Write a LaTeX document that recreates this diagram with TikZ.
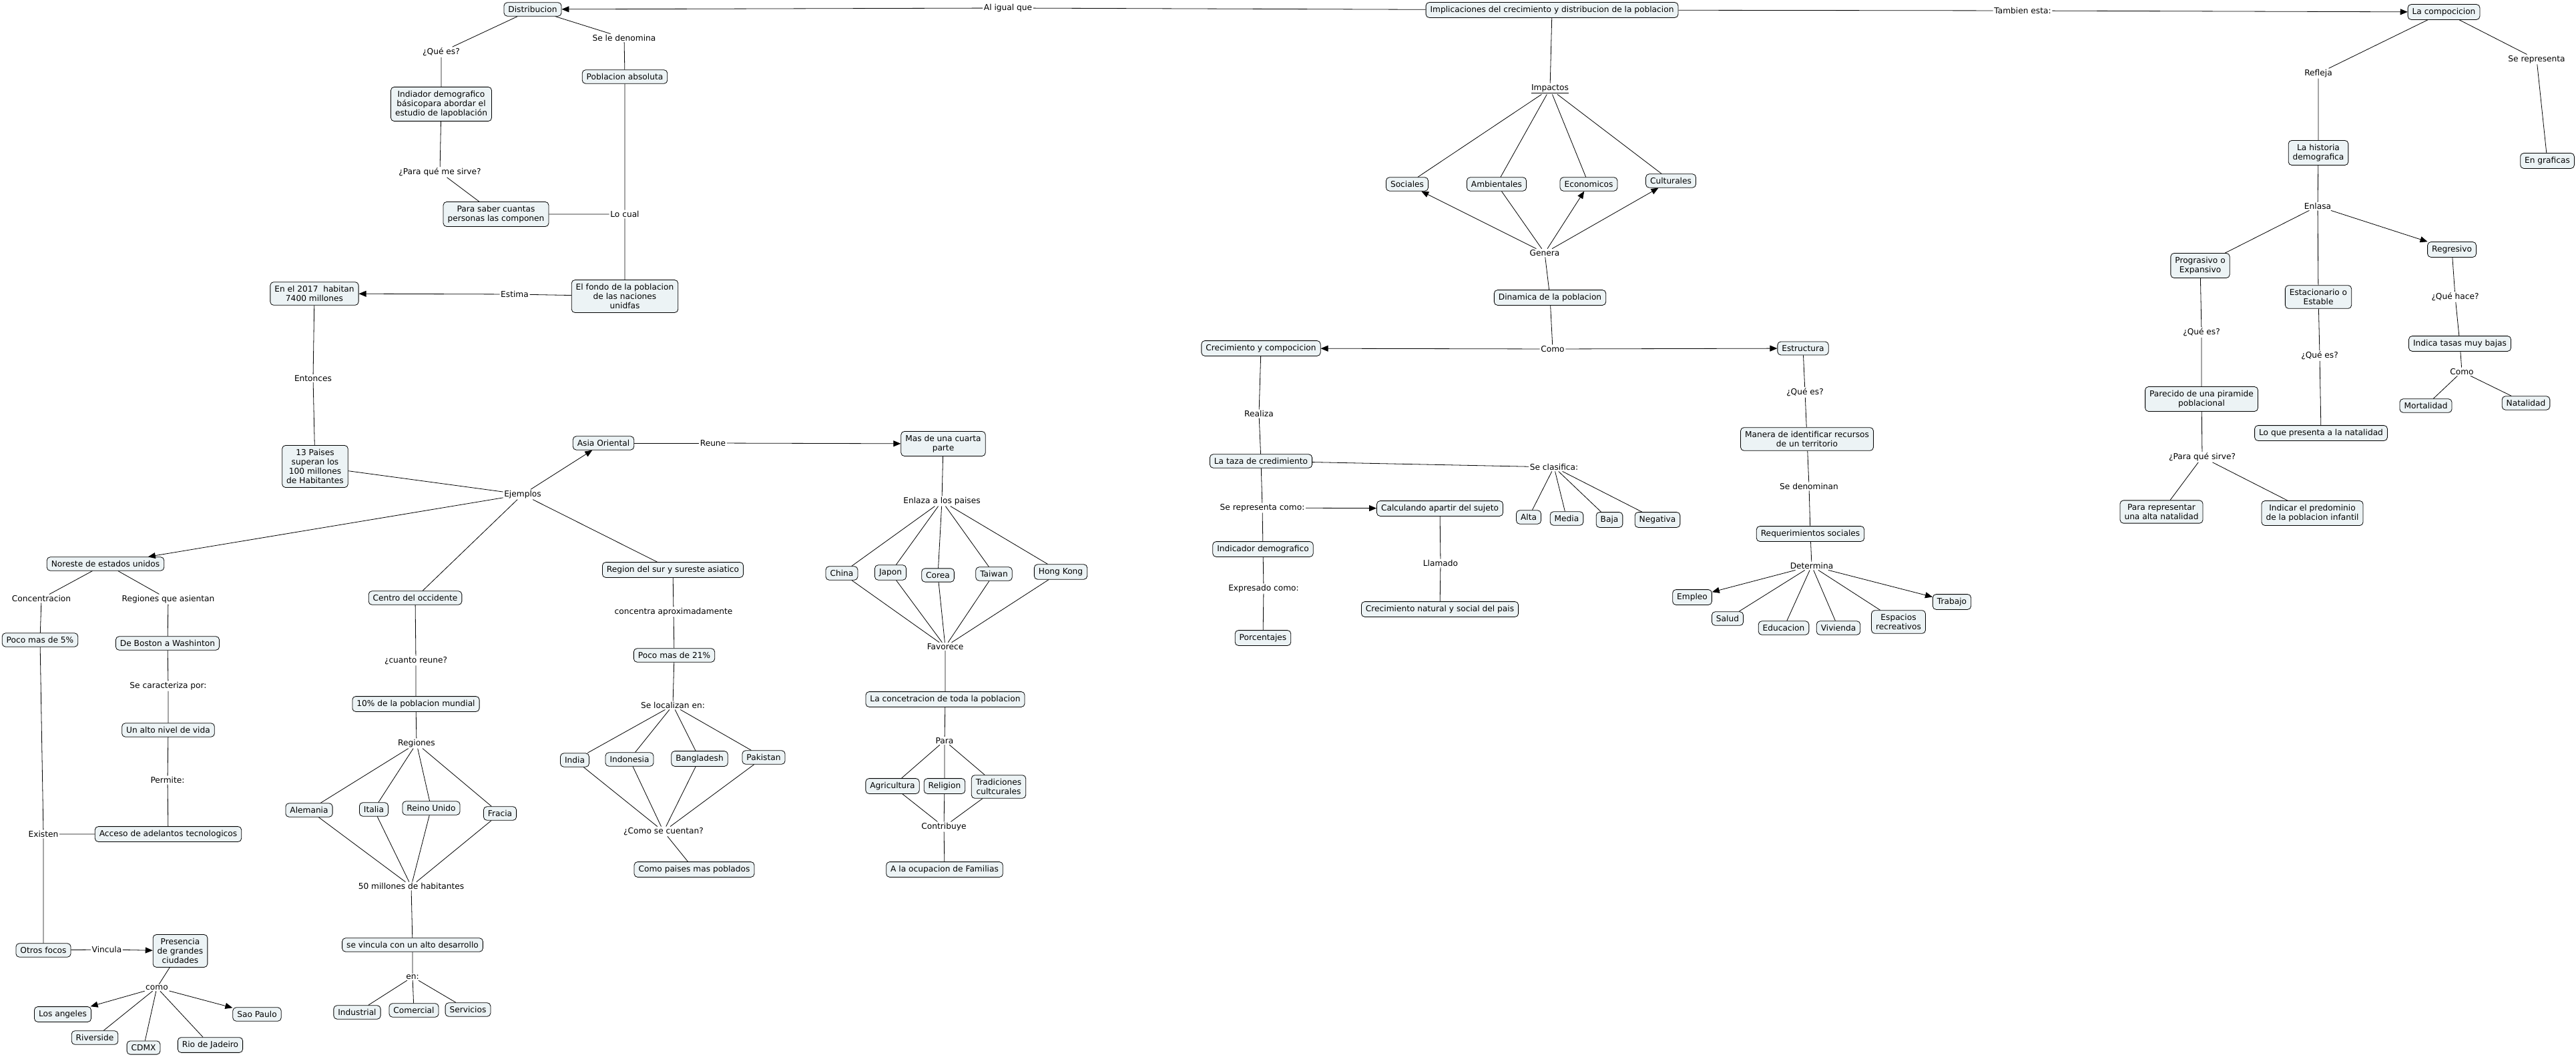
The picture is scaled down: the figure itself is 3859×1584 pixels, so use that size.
\documentclass[tikz,border=0pt]{standalone}
\usepackage{fontspec}
\setmainfont{DejaVu Sans}
\usetikzlibrary{arrows.meta}
\definecolor{cfill}{RGB}{236,243,245}

\begin{document}
\begin{tikzpicture}[
  x=1pt, y=-1pt,
  font=\fontsize{12.2}{14.2}\selectfont,
  concept/.style={draw, line width=0.8pt, rounded corners=5pt, fill=cfill, align=center, inner xsep=6.5pt, inner ysep=5.5pt},
  phrase/.style={fill=white, inner sep=1.5pt, align=center},
  con/.style={line width=0.8pt},
  arr/.style={con, -{Triangle[length=11pt,width=9pt]}}
]
\useasboundingbox (0,0) rectangle (3859,1584);

\node[concept] (impl) at (2325,15) {Implicaciones del crecimiento y distribucion de la poblacion};
\node[concept] (dist) at (798,14) {Distribucion};
\node[concept] (comp) at (3661,18) {La compocicion};
\node[phrase] (aligual) at (1510,12) {Al igual que};
\node[phrase] (tambien) at (3030,16) {Tambien esta:};

\draw[con] (impl) -- (aligual);
\draw[arr] (aligual) -- (dist);
\draw[con] (impl) -- (tambien);
\draw[arr] (tambien) -- (comp);

\node[phrase] (quees1) at (661,78) {¿Qué es?};
\node[phrase] (denom) at (935,57) {Se le denomina};
\node[concept] (pabs) at (936,115) {Poblacion absoluta};
\node[concept] (indiador) at (661,156) {Indiador demografico\\básicopara abordar el\\estudio de lapoblación};
\node[phrase] (paraq1) at (659,258) {¿Para qué me sirve?};
\node[concept] (saber) at (743,321) {Para saber cuantas\\personas las componen};
\node[phrase] (locual) at (936,321) {Lo cual};
\node[concept] (fondo) at (936,444) {El fondo de la poblacion\\de las naciones\\unidfas};
\node[phrase] (estima) at (771,441) {Estima};
\node[concept] (en2017) at (471,440) {En el 2017~~habitan\\7400 millones};
\node[phrase] (entonces) at (469,567) {Entonces};
\node[concept] (trece) at (472,699) {13 Paises\\superan los\\100 millones\\de Habitantes};
\node[phrase] (ejemplos) at (783,741) {Ejemplos};
\node[concept] (asia) at (904,664) {Asia Oriental};
\node[phrase] (reune) at (1068,664) {Reune};
\node[concept] (cuarta) at (1413,665) {Mas de una cuarta\\parte};

\draw[con] (dist) -- (quees1) -- (indiador) -- (paraq1) -- (saber) -- (locual);
\draw[con] (dist) -- (denom) -- (pabs) -- (locual) -- (fondo) -- (estima);
\draw[arr] (estima) -- (en2017);
\draw[con] (en2017) -- (entonces) -- (trece) -- (ejemplos);
\draw[arr] (ejemplos) -- (asia);
\draw[con] (asia) -- (reune);
\draw[arr] (reune) -- (cuarta);

\node[concept] (noreste) at (158,845) {Noreste de estados unidos};
\node[phrase] (concen) at (62,897) {Concentracion};
\node[phrase] (asientan) at (252,898) {Regiones que asientan};
\node[concept] (poco5) at (60,959) {Poco mas de 5\%};
\node[concept] (boston) at (251,964) {De Boston a Washinton};
\node[phrase] (caract) at (252,1028) {Se caracteriza por:};
\node[concept] (nivel) at (252,1094) {Un alto nivel de vida};
\node[phrase] (permite) at (251,1169) {Permite:};
\node[concept] (acceso) at (252,1250) {Acceso de adelantos tecnologicos};
\node[phrase] (existen) at (65,1250) {Existen};
\node[concept] (focos) at (65,1424) {Otros focos};
\node[phrase] (vincula) at (160,1423) {Vincula};
\node[concept] (presencia) at (270,1425) {Presencia\\de grandes\\ciudades};
\node[phrase] (como1) at (235,1480) {como};
\node[concept] (angeles) at (94,1520) {Los angeles};
\node[concept] (saopaulo) at (385,1520) {Sao Paulo};
\node[concept] (riverside) at (142,1555) {Riverside};
\node[concept] (cdmx) at (215,1570) {CDMX};
\node[concept] (rio) at (315,1566) {Rio de Jadeiro};

\draw[arr] (ejemplos) -- (noreste);
\draw[con] (noreste) -- (concen) -- (poco5) -- (existen) -- (focos) -- (vincula);
\draw[con] (noreste) -- (asientan) -- (boston) -- (caract) -- (nivel) -- (permite) -- (acceso) -- (existen);
\draw[arr] (vincula) -- (presencia);
\draw[con] (presencia) -- (como1);
\draw[arr] (como1) -- (angeles);
\draw[arr] (como1) -- (saopaulo);
\draw[con] (como1) -- (riverside) (como1) -- (cdmx) (como1) -- (rio);

\node[concept] (centro) at (622,896) {Centro del occidente};
\node[phrase] (cuanto) at (623,990) {¿cuanto reune?};
\node[concept] (diez) at (623,1055) {10\% de la poblacion mundial};
\node[phrase] (regiones) at (624,1114) {Regiones};
\node[concept] (alemania) at (463,1214) {Alemania};
\node[concept] (italia) at (560,1213) {Italia};
\node[concept] (reino) at (646,1211) {Reino Unido};
\node[concept] (fracia) at (749,1219) {Fracia};
\node[phrase] (cincuenta) at (616,1328) {50 millones de habitantes};
\node[concept] (vincdes) at (618,1416) {se vincula con un alto desarrollo};
\node[phrase] (en) at (618,1464) {en:};
\node[concept] (industrial) at (535,1517) {Industrial};
\node[concept] (comercial) at (620,1514) {Comercial};
\node[concept] (servicios) at (701,1513) {Servicios};

\draw[con] (ejemplos) -- (centro) -- (cuanto) -- (diez) -- (regiones);
\draw[con] (regiones) -- (alemania) -- (cincuenta);
\draw[con] (regiones) -- (italia) -- (cincuenta);
\draw[con] (regiones) -- (reino) -- (cincuenta);
\draw[con] (regiones) -- (fracia) -- (cincuenta);
\draw[con] (cincuenta) -- (vincdes) -- (en);
\draw[con] (en) -- (industrial) (en) -- (comercial) (en) -- (servicios);

\node[concept] (sur) at (1008,854) {Region del sur y sureste asiatico};
\node[phrase] (concentra) at (1009,917) {concentra aproximadamente};
\node[concept] (poco21) at (1010,982) {Poco mas de 21\%};
\node[phrase] (localizan) at (1008,1057) {Se localizan en:};
\node[concept] (india) at (861,1139) {India};
\node[concept] (indonesia) at (943,1138) {Indonesia};
\node[concept] (bangla) at (1048,1137) {Bangladesh};
\node[concept] (pakistan) at (1144,1135) {Pakistan};
\node[phrase] (cuentan) at (994,1246) {¿Como se cuentan?};
\node[concept] (poblados) at (1040,1303) {Como paises mas poblados};

\draw[con] (ejemplos) -- (sur) -- (concentra) -- (poco21) -- (localizan);
\draw[con] (localizan) -- (india) -- (cuentan);
\draw[con] (localizan) -- (indonesia) -- (cuentan);
\draw[con] (localizan) -- (bangla) -- (cuentan);
\draw[con] (localizan) -- (pakistan) -- (cuentan);
\draw[con] (cuentan) -- (poblados);

\node[phrase] (enlaza) at (1411,751) {Enlaza a los paises};
\node[concept] (china) at (1261,859) {China};
\node[concept] (japon) at (1334,858) {Japon};
\node[concept] (corea) at (1405,862) {Corea};
\node[concept] (taiwan) at (1489,860) {Taiwan};
\node[concept] (hongkong) at (1589,857) {Hong Kong};
\node[phrase] (favorece) at (1416,969) {Favorece};
\node[concept] (concetra) at (1416,1048) {La concetracion de toda la poblacion};
\node[phrase] (para) at (1415,1110) {Para};
\node[concept] (agri) at (1337,1178) {Agricultura};
\node[concept] (religion) at (1415,1178) {Religion};
\node[concept] (tradic) at (1496,1179) {Tradiciones\\cultcurales};
\node[phrase] (contribuye) at (1414,1239) {Contribuye};
\node[concept] (ocupacion) at (1415,1303) {A la ocupacion de Familias};

\draw[con] (cuarta) -- (enlaza);
\draw[con] (enlaza) -- (china) -- (favorece);
\draw[con] (enlaza) -- (japon) -- (favorece);
\draw[con] (enlaza) -- (corea) -- (favorece);
\draw[con] (enlaza) -- (taiwan) -- (favorece);
\draw[con] (enlaza) -- (hongkong) -- (favorece);
\draw[con] (favorece) -- (concetra) -- (para);
\draw[con] (para) -- (agri) -- (contribuye);
\draw[con] (para) -- (religion) -- (contribuye);
\draw[con] (para) -- (tradic) -- (contribuye);
\draw[con] (contribuye) -- (ocupacion);

\node[phrase] (impactos) at (2322,133) {\underline{Impactos}};
\node[concept] (sociales) at (2108,276) {Sociales};
\node[concept] (ambientales) at (2242,276) {Ambientales};
\node[concept] (economicos) at (2380,276) {Economicos};
\node[concept] (culturales) at (2503,271) {Culturales};
\node[phrase] (genera) at (2314,379) {Genera};
\node[concept] (dinamica) at (2322,446) {Dinamica de la poblacion};
\node[phrase] (como2) at (2326,523) {Como};
\node[concept] (crecomp) at (1889,522) {Crecimiento y compocicion};
\node[concept] (estructura) at (2701,522) {Estructura};

\draw[con] (impl) -- (impactos);
\draw[con] (impactos) -- (sociales) (impactos) -- (ambientales) (impactos) -- (economicos) (impactos) -- (culturales);
\draw[arr] (genera) -- (sociales);
\draw[con] (genera) -- (ambientales);
\draw[arr] (genera) -- (economicos);
\draw[arr] (genera) -- (culturales);
\draw[con] (dinamica) -- (genera);
\draw[con] (dinamica) -- (como2);
\draw[arr] (como2) -- (crecomp);
\draw[arr] (como2) -- (estructura);

\node[phrase] (realiza) at (1886,620) {Realiza};
\node[concept] (taza) at (1889,691) {La taza de credimiento};
\node[phrase] (represcomo) at (1891,761) {Se representa como:};
\node[concept] (inddemo) at (1892,823) {Indicador demografico};
\node[phrase] (expresado) at (1893,882) {Expresado como:};
\node[concept] (porcentajes) at (1892,956) {Porcentajes};
\node[concept] (calculando) at (2157,762) {Calculando apartir del sujeto};
\node[phrase] (llamado) at (2158,844) {Llamado};
\node[concept] (natsoc) at (2157,913) {Crecimiento natural y social del pais};
\node[phrase] (clasifica) at (2328,700) {Se clasifica:};
\node[concept] (alta) at (2290,775) {Alta};
\node[concept] (media) at (2347,777) {Media};
\node[concept] (baja) at (2411,779) {Baja};
\node[concept] (negativa) at (2483,779) {Negativa};

\draw[con] (crecomp) -- (realiza) -- (taza) -- (represcomo) -- (inddemo) -- (expresado) -- (porcentajes);
\draw[arr] (represcomo) -- (calculando);
\draw[con] (calculando) -- (llamado) -- (natsoc);
\draw[con] (taza) -- (clasifica);
\draw[con] (clasifica) -- (alta) (clasifica) -- (media) (clasifica) -- (baja) (clasifica) -- (negativa);

\node[phrase] (quees2) at (2704,588) {¿Qué es?};
\node[concept] (manera) at (2707,658) {Manera de identificar recursos\\de un territorio};
\node[phrase] (denominan) at (2710,729) {Se denominan};
\node[concept] (requer) at (2712,800) {Requerimientos sociales};
\node[phrase] (determina) at (2714,848) {Determina};
\node[concept] (empleo) at (2535,895) {Empleo};
\node[concept] (salud) at (2588,927) {Salud};
\node[concept] (educacion) at (2672,941) {Educacion};
\node[concept] (vivienda) at (2754,941) {Vivienda};
\node[concept] (espacios) at (2844,932) {Espacios\\recreativos};
\node[concept] (trabajo) at (2924,902) {Trabajo};

\draw[con] (estructura) -- (quees2) -- (manera) -- (denominan) -- (requer) -- (determina);
\draw[arr] (determina) -- (empleo);
\draw[con] (determina) -- (salud) (determina) -- (educacion) (determina) -- (vivienda) (determina) -- (espacios);
\draw[arr] (determina) -- (trabajo);

\node[phrase] (refleja) at (3473,110) {Refleja};
\node[phrase] (serepres) at (3800,89) {Se representa};
\node[concept] (historia) at (3473,229) {La historia\\demografica};
\node[concept] (graficas) at (3816,241) {En graficas};
\node[phrase] (enlasa) at (3472,309) {Enlasa};
\node[concept] (progresivo) at (3296,398) {Prograsivo o\\Expansivo};
\node[concept] (estacionario) at (3473,445) {Estacionario o\\Estable};
\node[concept] (regresivo) at (3673,374) {Regresivo};
\node[phrase] (quehace) at (3678,445) {¿Qué hace?};
\node[concept] (tasas) at (3685,515) {Indica tasas muy bajas};
\node[phrase] (como3) at (3688,557) {Como};
\node[concept] (mortalidad) at (3634,608) {Mortalidad};
\node[concept] (natalidad) at (3784,604) {Natalidad};
\node[phrase] (quees3) at (3298,498) {¿Qué es?};
\node[concept] (piramide) at (3298,598) {Parecido de una piramide\\poblacional};
\node[phrase] (parasirve) at (3299,685) {¿Para qué sirve?};
\node[concept] (altanat) at (3238,767) {Para representar\\una alta natalidad};
\node[concept] (infantil) at (3464,769) {Indicar el predominio\\de la poblacion infantil};
\node[phrase] (quees4) at (3475,533) {¿Qué es?};
\node[concept] (presenta) at (3477,649) {Lo que presenta a la natalidad};

\draw[con] (comp) -- (refleja) -- (historia) -- (enlasa);
\draw[con] (comp) -- (serepres) -- (graficas);
\draw[con] (enlasa) -- (progresivo) (enlasa) -- (estacionario);
\draw[arr] (enlasa) -- (regresivo);
\draw[con] (regresivo) -- (quehace) -- (tasas) -- (como3);
\draw[con] (como3) -- (mortalidad) (como3) -- (natalidad);
\draw[con] (progresivo) -- (quees3) -- (piramide) -- (parasirve);
\draw[con] (parasirve) -- (altanat) (parasirve) -- (infantil);
\draw[con] (estacionario) -- (quees4) -- (presenta);
\end{tikzpicture}
\end{document}
